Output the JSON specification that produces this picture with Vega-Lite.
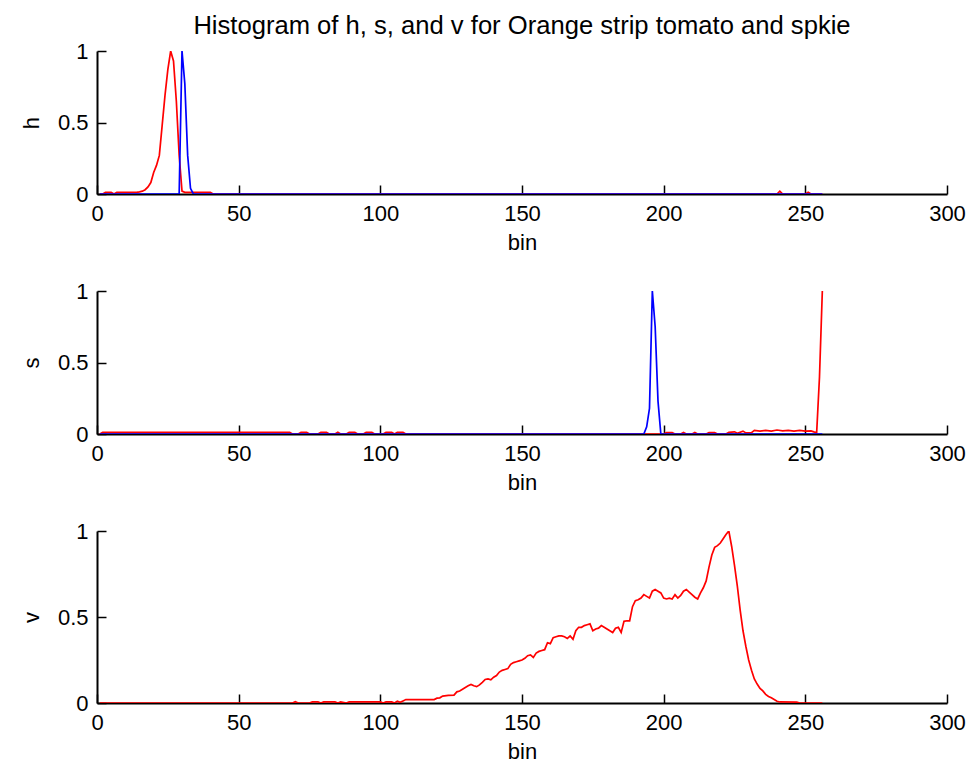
{
  "$schema": "https://vega.github.io/schema/vega-lite/v6.json",
  "autosize": {"type": "pad"},
  "padding": {"left": 20, "top": 14, "right": 5, "bottom": 5},
  "background": "white",
  "bounds": "flush",
  "spacing": 97,
  "config": {
    "font": "Liberation Sans",
    "view": {"stroke": null},
    "axis": {
      "grid": false,
      "domainColor": "#000000",
      "domainWidth": 2,
      "tickColor": "#000000",
      "tickWidth": 1.5,
      "tickSize": -9,
      "labelColor": "#000000",
      "labelFont": "Liberation Sans",
      "labelFontSize": 22,
      "labelPadding": 18,
      "labelFlush": false,
      "labelOverlap": false,
      "titleColor": "#000000",
      "titleFont": "Liberation Sans",
      "titleFontSize": 22,
      "titleFontWeight": "normal"
    },
    "title": {"font": "Liberation Sans", "fontSize": 25.6, "fontWeight": "normal", "color": "#000000"}
  },
  "datasets": {
    "hist": [
      {"ch":"h","obj":"tomato","bin":1,"value":0},
      {"ch":"h","obj":"tomato","bin":2,"value":0},
      {"ch":"h","obj":"tomato","bin":3,"value":0.012},
      {"ch":"h","obj":"tomato","bin":5,"value":0.012},
      {"ch":"h","obj":"tomato","bin":6,"value":0},
      {"ch":"h","obj":"tomato","bin":7,"value":0.012},
      {"ch":"h","obj":"tomato","bin":14,"value":0.012},
      {"ch":"h","obj":"tomato","bin":15,"value":0.015},
      {"ch":"h","obj":"tomato","bin":16,"value":0.02},
      {"ch":"h","obj":"tomato","bin":17,"value":0.03},
      {"ch":"h","obj":"tomato","bin":18,"value":0.05},
      {"ch":"h","obj":"tomato","bin":19,"value":0.08},
      {"ch":"h","obj":"tomato","bin":20,"value":0.15},
      {"ch":"h","obj":"tomato","bin":21,"value":0.2},
      {"ch":"h","obj":"tomato","bin":22,"value":0.27},
      {"ch":"h","obj":"tomato","bin":23,"value":0.48},
      {"ch":"h","obj":"tomato","bin":24,"value":0.69},
      {"ch":"h","obj":"tomato","bin":25,"value":0.87},
      {"ch":"h","obj":"tomato","bin":26,"value":1.0},
      {"ch":"h","obj":"tomato","bin":27,"value":0.93},
      {"ch":"h","obj":"tomato","bin":28,"value":0.65},
      {"ch":"h","obj":"tomato","bin":29,"value":0.27},
      {"ch":"h","obj":"tomato","bin":30,"value":0.02},
      {"ch":"h","obj":"tomato","bin":31,"value":0.012},
      {"ch":"h","obj":"tomato","bin":40,"value":0.012},
      {"ch":"h","obj":"tomato","bin":41,"value":0},
      {"ch":"h","obj":"tomato","bin":240,"value":0},
      {"ch":"h","obj":"tomato","bin":241,"value":0.02},
      {"ch":"h","obj":"tomato","bin":242,"value":0},
      {"ch":"h","obj":"tomato","bin":250,"value":0},
      {"ch":"h","obj":"tomato","bin":251,"value":0.012},
      {"ch":"h","obj":"tomato","bin":252,"value":0},
      {"ch":"h","obj":"tomato","bin":256,"value":0},
      {"ch":"h","obj":"spkie","bin":1,"value":0},
      {"ch":"h","obj":"spkie","bin":29,"value":0},
      {"ch":"h","obj":"spkie","bin":30,"value":1.0},
      {"ch":"h","obj":"spkie","bin":31,"value":0.77},
      {"ch":"h","obj":"spkie","bin":32,"value":0.27},
      {"ch":"h","obj":"spkie","bin":33,"value":0.04},
      {"ch":"h","obj":"spkie","bin":34,"value":0},
      {"ch":"h","obj":"spkie","bin":256,"value":0},
      {"ch":"s","obj":"tomato","bin":1,"value":0},
      {"ch":"s","obj":"tomato","bin":2,"value":0.012},
      {"ch":"s","obj":"tomato","bin":68,"value":0.012},
      {"ch":"s","obj":"tomato","bin":69,"value":0},
      {"ch":"s","obj":"tomato","bin":71,"value":0},
      {"ch":"s","obj":"tomato","bin":72,"value":0.012},
      {"ch":"s","obj":"tomato","bin":74,"value":0.012},
      {"ch":"s","obj":"tomato","bin":75,"value":0},
      {"ch":"s","obj":"tomato","bin":78,"value":0},
      {"ch":"s","obj":"tomato","bin":79,"value":0.012},
      {"ch":"s","obj":"tomato","bin":81,"value":0.012},
      {"ch":"s","obj":"tomato","bin":82,"value":0},
      {"ch":"s","obj":"tomato","bin":84,"value":0},
      {"ch":"s","obj":"tomato","bin":85,"value":0.012},
      {"ch":"s","obj":"tomato","bin":86,"value":0},
      {"ch":"s","obj":"tomato","bin":88,"value":0},
      {"ch":"s","obj":"tomato","bin":89,"value":0.012},
      {"ch":"s","obj":"tomato","bin":91,"value":0.012},
      {"ch":"s","obj":"tomato","bin":92,"value":0},
      {"ch":"s","obj":"tomato","bin":94,"value":0},
      {"ch":"s","obj":"tomato","bin":95,"value":0.012},
      {"ch":"s","obj":"tomato","bin":97,"value":0.012},
      {"ch":"s","obj":"tomato","bin":98,"value":0},
      {"ch":"s","obj":"tomato","bin":101,"value":0},
      {"ch":"s","obj":"tomato","bin":102,"value":0.012},
      {"ch":"s","obj":"tomato","bin":104,"value":0.012},
      {"ch":"s","obj":"tomato","bin":105,"value":0},
      {"ch":"s","obj":"tomato","bin":106,"value":0.012},
      {"ch":"s","obj":"tomato","bin":108,"value":0.012},
      {"ch":"s","obj":"tomato","bin":109,"value":0},
      {"ch":"s","obj":"tomato","bin":200,"value":0},
      {"ch":"s","obj":"tomato","bin":201,"value":0.01},
      {"ch":"s","obj":"tomato","bin":203,"value":0.01},
      {"ch":"s","obj":"tomato","bin":204,"value":0},
      {"ch":"s","obj":"tomato","bin":206,"value":0},
      {"ch":"s","obj":"tomato","bin":207,"value":0.01},
      {"ch":"s","obj":"tomato","bin":208,"value":0},
      {"ch":"s","obj":"tomato","bin":210,"value":0},
      {"ch":"s","obj":"tomato","bin":211,"value":0.01},
      {"ch":"s","obj":"tomato","bin":212,"value":0},
      {"ch":"s","obj":"tomato","bin":215,"value":0},
      {"ch":"s","obj":"tomato","bin":216,"value":0.01},
      {"ch":"s","obj":"tomato","bin":218,"value":0.01},
      {"ch":"s","obj":"tomato","bin":219,"value":0},
      {"ch":"s","obj":"tomato","bin":222,"value":0},
      {"ch":"s","obj":"tomato","bin":223,"value":0.012},
      {"ch":"s","obj":"tomato","bin":225,"value":0.015},
      {"ch":"s","obj":"tomato","bin":226,"value":0.005},
      {"ch":"s","obj":"tomato","bin":228,"value":0.02},
      {"ch":"s","obj":"tomato","bin":229,"value":0.008},
      {"ch":"s","obj":"tomato","bin":231,"value":0.01},
      {"ch":"s","obj":"tomato","bin":232,"value":0.025},
      {"ch":"s","obj":"tomato","bin":234,"value":0.02},
      {"ch":"s","obj":"tomato","bin":236,"value":0.025},
      {"ch":"s","obj":"tomato","bin":238,"value":0.02},
      {"ch":"s","obj":"tomato","bin":240,"value":0.028},
      {"ch":"s","obj":"tomato","bin":242,"value":0.022},
      {"ch":"s","obj":"tomato","bin":244,"value":0.025},
      {"ch":"s","obj":"tomato","bin":246,"value":0.02},
      {"ch":"s","obj":"tomato","bin":248,"value":0.025},
      {"ch":"s","obj":"tomato","bin":250,"value":0.02},
      {"ch":"s","obj":"tomato","bin":252,"value":0.022},
      {"ch":"s","obj":"tomato","bin":253,"value":0.015},
      {"ch":"s","obj":"tomato","bin":254,"value":0.01},
      {"ch":"s","obj":"tomato","bin":255,"value":0.4},
      {"ch":"s","obj":"tomato","bin":256,"value":1.0},
      {"ch":"s","obj":"spkie","bin":1,"value":0},
      {"ch":"s","obj":"spkie","bin":193,"value":0},
      {"ch":"s","obj":"spkie","bin":194,"value":0.05},
      {"ch":"s","obj":"spkie","bin":195,"value":0.18},
      {"ch":"s","obj":"spkie","bin":196,"value":1.0},
      {"ch":"s","obj":"spkie","bin":197,"value":0.75},
      {"ch":"s","obj":"spkie","bin":198,"value":0.23},
      {"ch":"s","obj":"spkie","bin":199,"value":0},
      {"ch":"s","obj":"spkie","bin":256,"value":0},
      {"ch":"v","obj":"tomato","bin":1,"value":0},
      {"ch":"v","obj":"tomato","bin":69,"value":0},
      {"ch":"v","obj":"tomato","bin":70,"value":0.008},
      {"ch":"v","obj":"tomato","bin":71,"value":0},
      {"ch":"v","obj":"tomato","bin":75,"value":0},
      {"ch":"v","obj":"tomato","bin":76,"value":0.006},
      {"ch":"v","obj":"tomato","bin":78,"value":0.006},
      {"ch":"v","obj":"tomato","bin":79,"value":0},
      {"ch":"v","obj":"tomato","bin":80,"value":0.006},
      {"ch":"v","obj":"tomato","bin":84,"value":0.006},
      {"ch":"v","obj":"tomato","bin":85,"value":0},
      {"ch":"v","obj":"tomato","bin":86,"value":0.006},
      {"ch":"v","obj":"tomato","bin":88,"value":0},
      {"ch":"v","obj":"tomato","bin":89,"value":0.006},
      {"ch":"v","obj":"tomato","bin":100,"value":0.006},
      {"ch":"v","obj":"tomato","bin":101,"value":0},
      {"ch":"v","obj":"tomato","bin":102,"value":0.006},
      {"ch":"v","obj":"tomato","bin":104,"value":0.006},
      {"ch":"v","obj":"tomato","bin":105,"value":0},
      {"ch":"v","obj":"tomato","bin":106,"value":0.01},
      {"ch":"v","obj":"tomato","bin":107,"value":0.004},
      {"ch":"v","obj":"tomato","bin":108,"value":0.012},
      {"ch":"v","obj":"tomato","bin":109,"value":0.02},
      {"ch":"v","obj":"tomato","bin":119,"value":0.02},
      {"ch":"v","obj":"tomato","bin":120,"value":0.028},
      {"ch":"v","obj":"tomato","bin":121,"value":0.03},
      {"ch":"v","obj":"tomato","bin":122,"value":0.04},
      {"ch":"v","obj":"tomato","bin":124,"value":0.044},
      {"ch":"v","obj":"tomato","bin":126,"value":0.046},
      {"ch":"v","obj":"tomato","bin":127,"value":0.065},
      {"ch":"v","obj":"tomato","bin":128,"value":0.07},
      {"ch":"v","obj":"tomato","bin":129,"value":0.08},
      {"ch":"v","obj":"tomato","bin":130,"value":0.09},
      {"ch":"v","obj":"tomato","bin":131,"value":0.1},
      {"ch":"v","obj":"tomato","bin":132,"value":0.108},
      {"ch":"v","obj":"tomato","bin":133,"value":0.1},
      {"ch":"v","obj":"tomato","bin":134,"value":0.095},
      {"ch":"v","obj":"tomato","bin":135,"value":0.105},
      {"ch":"v","obj":"tomato","bin":136,"value":0.12},
      {"ch":"v","obj":"tomato","bin":137,"value":0.137},
      {"ch":"v","obj":"tomato","bin":138,"value":0.14},
      {"ch":"v","obj":"tomato","bin":139,"value":0.135},
      {"ch":"v","obj":"tomato","bin":140,"value":0.15},
      {"ch":"v","obj":"tomato","bin":141,"value":0.16},
      {"ch":"v","obj":"tomato","bin":142,"value":0.18},
      {"ch":"v","obj":"tomato","bin":143,"value":0.19},
      {"ch":"v","obj":"tomato","bin":144,"value":0.195},
      {"ch":"v","obj":"tomato","bin":145,"value":0.2},
      {"ch":"v","obj":"tomato","bin":146,"value":0.225},
      {"ch":"v","obj":"tomato","bin":147,"value":0.235},
      {"ch":"v","obj":"tomato","bin":148,"value":0.24},
      {"ch":"v","obj":"tomato","bin":149,"value":0.245},
      {"ch":"v","obj":"tomato","bin":150,"value":0.25},
      {"ch":"v","obj":"tomato","bin":151,"value":0.26},
      {"ch":"v","obj":"tomato","bin":152,"value":0.275},
      {"ch":"v","obj":"tomato","bin":153,"value":0.28},
      {"ch":"v","obj":"tomato","bin":154,"value":0.265},
      {"ch":"v","obj":"tomato","bin":155,"value":0.29},
      {"ch":"v","obj":"tomato","bin":156,"value":0.3},
      {"ch":"v","obj":"tomato","bin":157,"value":0.305},
      {"ch":"v","obj":"tomato","bin":158,"value":0.31},
      {"ch":"v","obj":"tomato","bin":159,"value":0.35},
      {"ch":"v","obj":"tomato","bin":160,"value":0.345},
      {"ch":"v","obj":"tomato","bin":161,"value":0.38},
      {"ch":"v","obj":"tomato","bin":162,"value":0.385},
      {"ch":"v","obj":"tomato","bin":163,"value":0.39},
      {"ch":"v","obj":"tomato","bin":164,"value":0.39},
      {"ch":"v","obj":"tomato","bin":165,"value":0.385},
      {"ch":"v","obj":"tomato","bin":166,"value":0.375},
      {"ch":"v","obj":"tomato","bin":167,"value":0.39},
      {"ch":"v","obj":"tomato","bin":168,"value":0.37},
      {"ch":"v","obj":"tomato","bin":169,"value":0.42},
      {"ch":"v","obj":"tomato","bin":170,"value":0.44},
      {"ch":"v","obj":"tomato","bin":171,"value":0.44},
      {"ch":"v","obj":"tomato","bin":172,"value":0.45},
      {"ch":"v","obj":"tomato","bin":173,"value":0.455},
      {"ch":"v","obj":"tomato","bin":174,"value":0.46},
      {"ch":"v","obj":"tomato","bin":175,"value":0.42},
      {"ch":"v","obj":"tomato","bin":176,"value":0.43},
      {"ch":"v","obj":"tomato","bin":177,"value":0.435},
      {"ch":"v","obj":"tomato","bin":178,"value":0.45},
      {"ch":"v","obj":"tomato","bin":179,"value":0.44},
      {"ch":"v","obj":"tomato","bin":180,"value":0.43},
      {"ch":"v","obj":"tomato","bin":181,"value":0.42},
      {"ch":"v","obj":"tomato","bin":182,"value":0.41},
      {"ch":"v","obj":"tomato","bin":183,"value":0.435},
      {"ch":"v","obj":"tomato","bin":184,"value":0.44},
      {"ch":"v","obj":"tomato","bin":185,"value":0.41},
      {"ch":"v","obj":"tomato","bin":186,"value":0.475},
      {"ch":"v","obj":"tomato","bin":187,"value":0.478},
      {"ch":"v","obj":"tomato","bin":188,"value":0.478},
      {"ch":"v","obj":"tomato","bin":189,"value":0.56},
      {"ch":"v","obj":"tomato","bin":190,"value":0.595},
      {"ch":"v","obj":"tomato","bin":191,"value":0.6},
      {"ch":"v","obj":"tomato","bin":192,"value":0.61},
      {"ch":"v","obj":"tomato","bin":193,"value":0.63},
      {"ch":"v","obj":"tomato","bin":194,"value":0.62},
      {"ch":"v","obj":"tomato","bin":195,"value":0.61},
      {"ch":"v","obj":"tomato","bin":196,"value":0.65},
      {"ch":"v","obj":"tomato","bin":197,"value":0.66},
      {"ch":"v","obj":"tomato","bin":198,"value":0.65},
      {"ch":"v","obj":"tomato","bin":199,"value":0.64},
      {"ch":"v","obj":"tomato","bin":200,"value":0.61},
      {"ch":"v","obj":"tomato","bin":201,"value":0.605},
      {"ch":"v","obj":"tomato","bin":202,"value":0.61},
      {"ch":"v","obj":"tomato","bin":203,"value":0.605},
      {"ch":"v","obj":"tomato","bin":204,"value":0.63},
      {"ch":"v","obj":"tomato","bin":205,"value":0.61},
      {"ch":"v","obj":"tomato","bin":206,"value":0.625},
      {"ch":"v","obj":"tomato","bin":207,"value":0.65},
      {"ch":"v","obj":"tomato","bin":208,"value":0.66},
      {"ch":"v","obj":"tomato","bin":209,"value":0.645},
      {"ch":"v","obj":"tomato","bin":210,"value":0.63},
      {"ch":"v","obj":"tomato","bin":211,"value":0.615},
      {"ch":"v","obj":"tomato","bin":212,"value":0.605},
      {"ch":"v","obj":"tomato","bin":213,"value":0.64},
      {"ch":"v","obj":"tomato","bin":214,"value":0.67},
      {"ch":"v","obj":"tomato","bin":215,"value":0.71},
      {"ch":"v","obj":"tomato","bin":216,"value":0.79},
      {"ch":"v","obj":"tomato","bin":217,"value":0.86},
      {"ch":"v","obj":"tomato","bin":218,"value":0.905},
      {"ch":"v","obj":"tomato","bin":219,"value":0.915},
      {"ch":"v","obj":"tomato","bin":220,"value":0.93},
      {"ch":"v","obj":"tomato","bin":221,"value":0.955},
      {"ch":"v","obj":"tomato","bin":222,"value":0.98},
      {"ch":"v","obj":"tomato","bin":223,"value":1.0},
      {"ch":"v","obj":"tomato","bin":224,"value":0.91},
      {"ch":"v","obj":"tomato","bin":225,"value":0.8},
      {"ch":"v","obj":"tomato","bin":226,"value":0.68},
      {"ch":"v","obj":"tomato","bin":227,"value":0.54},
      {"ch":"v","obj":"tomato","bin":228,"value":0.42},
      {"ch":"v","obj":"tomato","bin":229,"value":0.33},
      {"ch":"v","obj":"tomato","bin":230,"value":0.25},
      {"ch":"v","obj":"tomato","bin":231,"value":0.19},
      {"ch":"v","obj":"tomato","bin":232,"value":0.14},
      {"ch":"v","obj":"tomato","bin":233,"value":0.11},
      {"ch":"v","obj":"tomato","bin":234,"value":0.085},
      {"ch":"v","obj":"tomato","bin":235,"value":0.07},
      {"ch":"v","obj":"tomato","bin":236,"value":0.05},
      {"ch":"v","obj":"tomato","bin":237,"value":0.038},
      {"ch":"v","obj":"tomato","bin":238,"value":0.03},
      {"ch":"v","obj":"tomato","bin":239,"value":0.02},
      {"ch":"v","obj":"tomato","bin":240,"value":0.01},
      {"ch":"v","obj":"tomato","bin":241,"value":0.006},
      {"ch":"v","obj":"tomato","bin":247,"value":0.005},
      {"ch":"v","obj":"tomato","bin":248,"value":0},
      {"ch":"v","obj":"tomato","bin":256,"value":0}
    ]
  },
  "vconcat": [
    {
      "width": 850,
      "height": 143,
      "title": {"text": "Histogram of h, s, and v for Orange strip tomato and spkie", "offset": 0},
      "data": {"name": "hist"},
      "transform": [{"filter": "datum.ch === 'h'"}],
      "encoding": {
        "x": {"field": "bin", "type": "quantitative", "scale": {"domain": [0, 300], "nice": false, "zero": false},
              "axis": {"values": [0, 50, 100, 150, 200, 250, 300], "title": "bin", "titlePadding": 8}},
        "y": {"field": "value", "type": "quantitative", "scale": {"domain": [0, 1], "nice": false},
              "axis": {"values": [0, 0.5, 1], "format": "~g", "title": "h", "titlePadding": 14}}
      },
      "layer": [
        {"transform": [{"filter": "datum.obj === 'tomato'"}], "mark": {"type": "line", "color": "#ff0000", "strokeWidth": 1.7, "clip": true}},
        {"transform": [{"filter": "datum.obj === 'spkie'"}], "mark": {"type": "line", "color": "#0000ff", "strokeWidth": 1.7, "clip": true}}
      ]
    },
    {
      "width": 850,
      "height": 143,
      "data": {"name": "hist"},
      "transform": [{"filter": "datum.ch === 's'"}],
      "encoding": {
        "x": {"field": "bin", "type": "quantitative", "scale": {"domain": [0, 300], "nice": false, "zero": false},
              "axis": {"values": [0, 50, 100, 150, 200, 250, 300], "title": "bin", "titlePadding": 8}},
        "y": {"field": "value", "type": "quantitative", "scale": {"domain": [0, 1], "nice": false},
              "axis": {"values": [0, 0.5, 1], "format": "~g", "title": "s", "titlePadding": 14}}
      },
      "layer": [
        {"transform": [{"filter": "datum.obj === 'tomato'"}], "mark": {"type": "line", "color": "#ff0000", "strokeWidth": 1.7, "clip": true}},
        {"transform": [{"filter": "datum.obj === 'spkie'"}], "mark": {"type": "line", "color": "#0000ff", "strokeWidth": 1.7, "clip": true}}
      ]
    },
    {
      "width": 850,
      "height": 172,
      "data": {"name": "hist"},
      "transform": [{"filter": "datum.ch === 'v'"}],
      "encoding": {
        "x": {"field": "bin", "type": "quantitative", "scale": {"domain": [0, 300], "nice": false, "zero": false},
              "axis": {"values": [0, 50, 100, 150, 200, 250, 300], "title": "bin", "titlePadding": 8}},
        "y": {"field": "value", "type": "quantitative", "scale": {"domain": [0, 1], "nice": false},
              "axis": {"values": [0, 0.5, 1], "format": "~g", "title": "v", "titlePadding": 14}}
      },
      "layer": [
        {"transform": [{"filter": "datum.obj === 'tomato'"}], "mark": {"type": "line", "color": "#ff0000", "strokeWidth": 1.7, "clip": true}}
      ]
    }
  ]
}
